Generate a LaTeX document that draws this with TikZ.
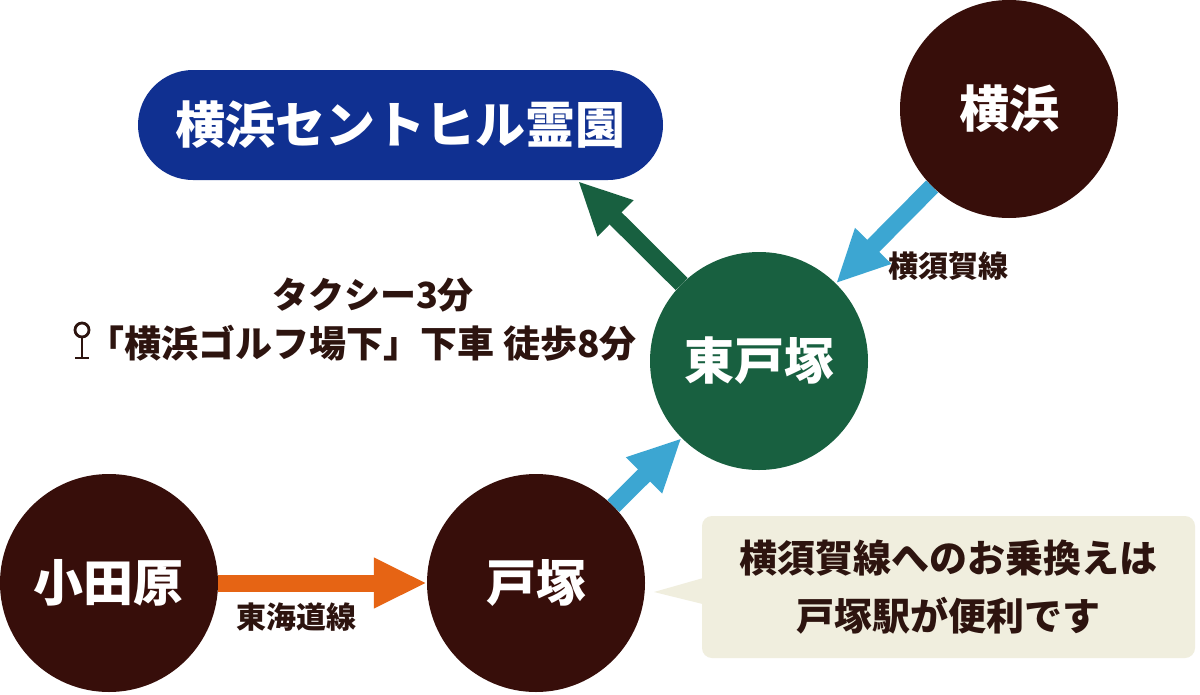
\documentclass[tikz,border=0pt]{standalone}
\usepackage{fontspec}
\newfontfamily\jp{Noto Sans CJK JP}
\usetikzlibrary{arrows.meta,calc}
\definecolor{stbrown}{RGB}{55,14,10}
\definecolor{stgreen}{RGB}{24,96,64}
\definecolor{stnavy}{RGB}{16,48,145}
\definecolor{lineblue}{RGB}{60,166,210}
\definecolor{lineorange}{RGB}{230,100,20}
\definecolor{notecream}{RGB}{240,238,222}
\definecolor{darktext}{RGB}{45,20,15}
\begin{document}
\begin{tikzpicture}[x=1pt,y=-1pt,
  station/.style={circle, fill=stbrown, minimum size=218pt, inner sep=0pt, text=white,
    font={\jp\bfseries\fontsize{50}{60}\selectfont}},
  arrowline/.style={line width=17pt, -{Triangle[length=53pt,width=47pt]}},
  smalllabel/.style={text=darktext, font={\jp\bfseries\fontsize{30}{36}\selectfont}},
  infotext/.style={text=darktext, font={\jp\bfseries\fontsize{36}{44}\selectfont}}]
\fill[white] (0,0) rectangle (1200,694);
\useasboundingbox (0,0) rectangle (1200,694);

% stations
\node[station] (odw) at (109,583) {小田原};
\node[station] (tot) at (536,583) {戸塚};
\node[station, fill=stgreen] (htz) at (759,361) {東戸塚};
\node[station] (yok) at (1009,109) {横浜};

% destination
\node[fill=stnavy, rounded corners=55pt, minimum width=525pt, minimum height=110pt,
  inner sep=0pt, text=white, font={\jp\bfseries\fontsize{50}{60}\selectfont}]
  (dest) at (400.5,125) {横浜セントヒル霊園};
\coordinate (gtip) at (578,181);

% connectors
\draw[arrowline, lineorange] (odw) -- (tot);
\draw[arrowline, lineblue] (tot) -- (htz);
\draw[arrowline, lineblue] (yok) -- (htz);
\draw[arrowline, stgreen] (htz) -- (gtip);

% line labels
\node[smalllabel] (lblyoko) at (948,266) {横須賀線};
\node[smalllabel] (lbltokai) at (296,617) {東海道線};

% access text
\node[infotext] (taxi) at (373,295) {タクシー3分};
\node[infotext, anchor=west, font={\jp\bfseries\fontsize{37}{44}\selectfont}] (walk) at (84,343) {「横浜ゴルフ場下」下車 徒歩8分};
\draw[darktext, line width=2.8pt] (82,330) circle (7pt);
\draw[darktext, line width=2.8pt] (82,337) -- (82,358) (75,358) -- (89,358);

% callout
\node[fill=notecream, rounded corners=10pt, minimum width=493pt, minimum height=142pt,
  align=center, text=darktext, font={\jp\bfseries\fontsize{38}{58}\selectfont}]
  (note) at (948.5,587) {横須賀線へのお乗換えは\\戸塚駅が便利です};
\coordinate (ptip) at (654,592);
\fill[notecream] ($(note.west)+(5,-10)$) -- (ptip) -- ($(note.west)+(5,18)$) -- cycle;
\end{tikzpicture}
\end{document}
